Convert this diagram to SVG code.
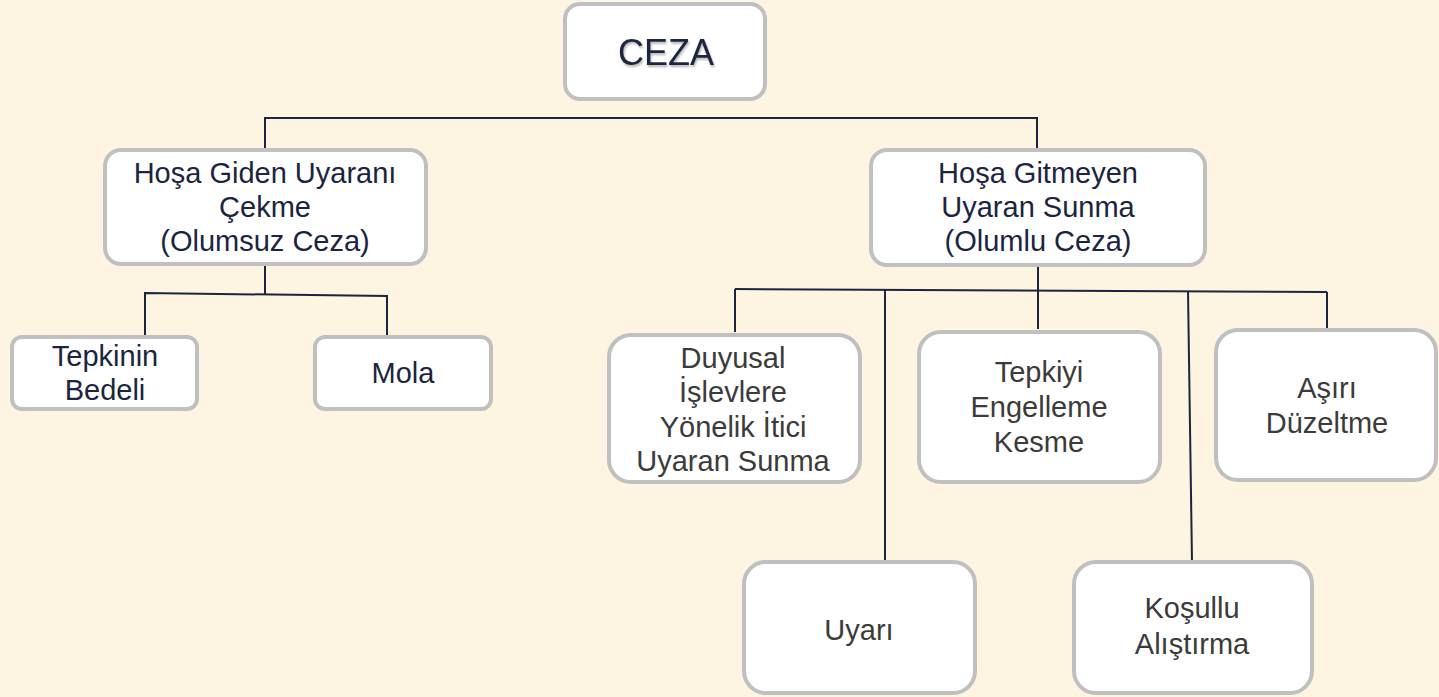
<svg xmlns="http://www.w3.org/2000/svg" width="1439" height="697" viewBox="0 0 1439 697">
<defs>
<style>
.box{fill:#ffffff;stroke:#c0c0c0;stroke-width:4}
.t{font-family:"Liberation Sans",Arial,sans-serif;font-size:29px;text-anchor:middle;fill:#1b2540}
.g{fill:#3b3b3b}
.big{font-size:36px}
.ln{stroke:#1b2540;stroke-width:2;fill:none}
</style>
<filter id="sh" x="-10%" y="-10%" width="120%" height="130%">
<feDropShadow dx="1" dy="2" stdDeviation="1.2" flood-color="#000" flood-opacity="0.3"/>
</filter>
</defs>
<rect width="1439" height="697" fill="#fdf4e1"/>
<g id="connectors">
<polyline class="ln" points="265,149 265,118 1037,118 1037,149"/>
<line class="ln" x1="265" y1="266" x2="265" y2="294"/>
<polyline class="ln" points="145,336 145,293 387,296 387,336"/>
<line class="ln" x1="1038" y1="266" x2="1038" y2="291"/>
<line class="ln" x1="735" y1="289" x2="1327" y2="292"/>
<line class="ln" x1="735" y1="289" x2="735" y2="332"/>
<line class="ln" x1="885" y1="290" x2="885" y2="560"/>
<line class="ln" x1="1038" y1="291" x2="1038" y2="329"/>
<line class="ln" x1="1188" y1="291" x2="1192" y2="562"/>
<line class="ln" x1="1327" y1="292" x2="1327" y2="330"/>
</g>
<g id="ceza">
<rect class="box" x="565" y="4" width="200" height="95" rx="15"/>
<text class="t big" x="666" y="65" filter="url(#sh)">CEZA</text>
</g>
<g id="olumsuz">
<rect class="box" x="105" y="150" width="321" height="114" rx="16"/>
<text class="t" x="265"><tspan x="265" y="183">Hoşa Giden Uyaranı</tspan><tspan x="265" y="217">Çekme</tspan><tspan x="265" y="251">(Olumsuz Ceza)</tspan></text>
</g>
<g id="olumlu">
<rect class="box" x="871" y="150" width="334" height="115" rx="16"/>
<text class="t" x="1038"><tspan x="1038" y="183">Hoşa Gitmeyen</tspan><tspan x="1038" y="217">Uyaran Sunma</tspan><tspan x="1038" y="251">(Olumlu Ceza)</tspan></text>
</g>
<g id="tepkinin">
<rect class="box" x="12" y="337" width="185" height="72" rx="10"/>
<text class="t" x="105"><tspan x="105" y="366">Tepkinin</tspan><tspan x="105" y="400">Bedeli</tspan></text>
</g>
<g id="mola">
<rect class="box" x="315" y="337" width="176" height="72" rx="10"/>
<text class="t" x="403" y="383">Mola</text>
</g>
<g id="duyusal">
<rect class="box" x="609" y="335" width="251" height="147" rx="22"/>
<text class="t g" x="733"><tspan x="733" y="368">Duyusal</tspan><tspan x="733" y="402">İşlevlere</tspan><tspan x="733" y="436.5">Yönelik İtici</tspan><tspan x="733" y="471">Uyaran Sunma</tspan></text>
</g>
<g id="tepkiyi">
<rect class="box" x="919" y="332" width="241" height="150" rx="22"/>
<text class="t g" x="1039"><tspan x="1039" y="382">Tepkiyi</tspan><tspan x="1039" y="417">Engelleme</tspan><tspan x="1039" y="452">Kesme</tspan></text>
</g>
<g id="asiri">
<rect class="box" x="1216" y="330" width="220" height="150" rx="22"/>
<text class="t g" x="1327"><tspan x="1327" y="398">Aşırı</tspan><tspan x="1327" y="433">Düzeltme</tspan></text>
</g>
<g id="uyari">
<rect class="box" x="744" y="562" width="231" height="131" rx="22"/>
<text class="t g" x="859" y="640">Uyarı</text>
</g>
<g id="kosullu">
<rect class="box" x="1074" y="562" width="238" height="131" rx="22"/>
<text class="t g" x="1192"><tspan x="1192" y="618">Koşullu</tspan><tspan x="1192" y="654">Alıştırma</tspan></text>
</g>
</svg>
